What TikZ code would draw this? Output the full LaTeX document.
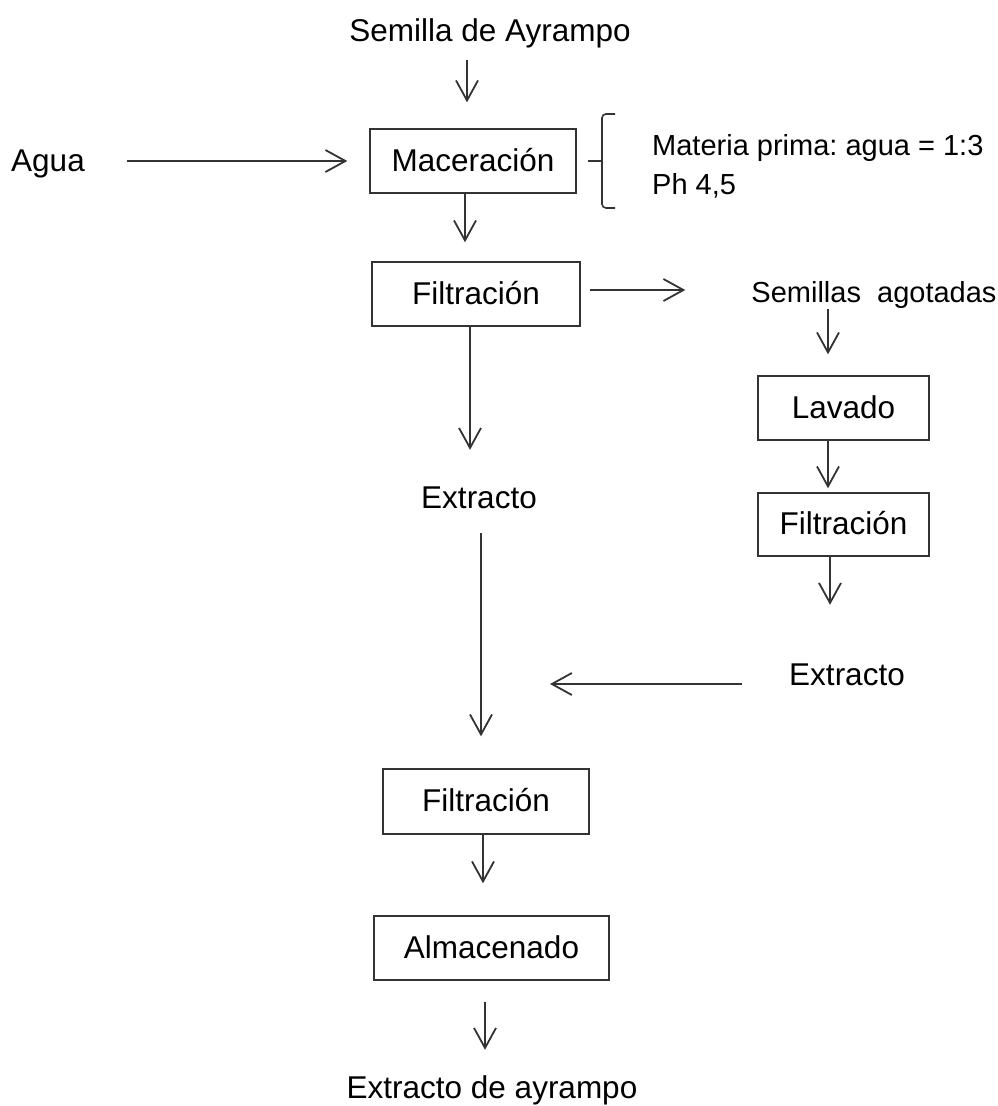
\documentclass[tikz,border=0pt]{standalone}
\usepackage{fontspec}
\setmainfont{Liberation Sans}
\usetikzlibrary{arrows.meta}
\newcommand{\grande}{\fontsize{31.5}{36}\selectfont}
\newcommand{\chico}{\fontsize{29}{34}\selectfont}
\frenchspacing

\begin{document}
\begin{tikzpicture}[x=1pt,y=-1pt,
		caja/.style={draw=black!80, line width=1.4pt, inner sep=0pt, minimum height=64pt, text height=25pt, text depth=5pt, font=\grande},
		texto/.style={inner sep=0pt, text height=23pt, text depth=7pt, font=\grande},
		chico/.style={inner sep=0pt, text height=21pt, text depth=6pt, font=\chico},
		flecha/.style={-{Straight Barb[length=20pt,width=22pt]}, line width=1.8pt, draw=black!80}]
		\useasboundingbox (0,0) rectangle (998,1106);

		% columna principal
		\node[texto] (sem) at (490,33) {Semilla de Ayrampo};
		\node[texto] (agua) at (48,163) {Agua};
		\node[caja, minimum width=206pt] (mac) at (473,161) {Maceración};
		\node[chico, anchor=west] (mp) at (652,148) {Materia prima: agua = 1:3};
		\node[chico, anchor=west] (ph) at (652,187) {Ph 4,5};
		\node[caja, minimum width=208pt] (fil1) at (476,294) {Filtración};
		\node[texto] (ext1) at (479,500) {Extracto};
		\node[caja, minimum width=206pt, minimum height=65pt] (fil3) at (486,801.5) {Filtración};
		\node[caja, minimum width=235pt] (alm) at (491.5,948) {Almacenado};
		\node[texto] (extay) at (492,1090) {Extracto de ayrampo};

		% semillas agotadas
		\node[chico] (semag) at (874,295) {Semillas\ \ agotadas};
		\node[caja, minimum width=171pt] (lav) at (843.5,408) {Lavado};
		\node[caja, minimum width=171pt, minimum height=63pt] (fil2) at (843.5,524.5) {Filtración};
		\node[texto] (ext2) at (847,677) {Extracto};
		\coordinate (junta) at (550,684);

		% llave
		\draw[line width=1.6pt, draw=black!80, rounded corners=4pt] (615,114) -- (602,114) -- (602,161) -- (602,208) -- (615,208);
		\draw[line width=1.6pt, draw=black!80] (602,161) -- (588,161);

		\draw[flecha, shorten <=12pt, shorten >=26pt] ([xshift=-23pt]sem.south) -- ([xshift=-6pt]mac.north);
		\draw[flecha, shorten <=42pt, shorten >=22pt] ([yshift=2pt]agua.east) -- (mac.west);
		\draw[flecha, shorten >=19pt] ([xshift=-8pt]mac.south) -- ([xshift=-11pt]fil1.north);
		\draw[flecha, shorten <=9pt, shorten >=66pt] ([yshift=4pt]fil1.east) -- ([yshift=5pt]semag.west);
		\draw[flecha, shorten >=35pt] ([xshift=-6pt]fil1.south) -- ([xshift=-9pt]ext1.north);
		\draw[flecha, shorten >=21pt] ([xshift=-46pt]semag.south) -- ([xshift=-15.5pt]lav.north);
		\draw[flecha, shorten >=4pt] ([xshift=-15.5pt]lav.south) -- ([xshift=-15.5pt]fil2.north);
		\draw[flecha, shorten >=57pt] ([xshift=-13.5pt]fil2.south) -- ([xshift=-17pt]ext2.north);
		\draw[flecha, shorten <=47pt] ([yshift=-7pt]ext2.west) -- (junta);
		\draw[flecha, shorten <=18pt, shorten >=32pt] ([xshift=2pt]ext1.south) -- ([xshift=-5pt]fil3.north);
		\draw[flecha, shorten >=32pt] ([xshift=-3pt]fil3.south) -- ([xshift=-8.5pt]alm.north);
		\draw[flecha, shorten <=21pt, shorten >=25pt] ([xshift=-6.5pt]alm.south) -- ([xshift=-7pt]extay.north);
	\end{tikzpicture}
\end{document}
